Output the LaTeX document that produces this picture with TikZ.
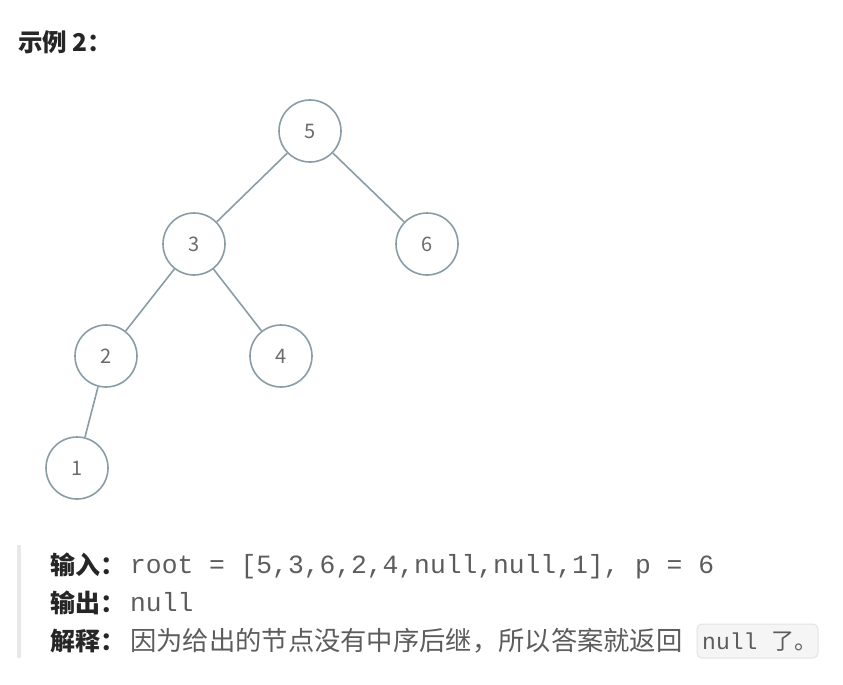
\documentclass[tikz,border=0pt]{standalone}
\usepackage{fontspec}
\newfontfamily\cjk{Noto Sans CJK SC}
\setmonofont{Liberation Mono}
\definecolor{treeline}{HTML}{8A9CA6}
\definecolor{numgray}{HTML}{6B6B6B}
\definecolor{textgray}{HTML}{5C5C5C}
\definecolor{labeldark}{HTML}{262626}
\definecolor{codebg}{HTML}{F5F5F5}
\definecolor{codeframe}{HTML}{E3E3E3}
\definecolor{quotebar}{HTML}{E8E8E8}

\begin{document}
\begin{tikzpicture}[x=1pt,y=-1pt,
	treenode/.style={circle, draw=treeline, line width=1.6pt, minimum size=62pt, inner sep=0pt,
		text=numgray, font=\cjk\fontsize{20}{24}\selectfont},
	treeedge/.style={draw=treeline, line width=1.6pt},
	label/.style={anchor=base west, inner sep=0pt, text=labeldark, font=\cjk\bfseries\fontsize{25}{30}\selectfont},
	plain/.style={anchor=base west, inner sep=0pt, text=textgray}]
	\useasboundingbox (0,0) rectangle (843,685);
	\node [anchor=base west, inner sep=0pt, text=labeldark, font=\cjk\bfseries\fontsize{24.5}{28}\selectfont] (title) at (18,52) {示例 2：};
	\node [treenode] (n5) at (310,131) {5};
	\node [treenode] (n3) at (194,244) {3};
	\node [treenode] (n6) at (427,244) {6};
	\node [treenode] (n2) at (106,356) {2};
	\node [treenode] (n4) at (281,356) {4};
	\node [treenode] (n1) at (77,468) {1};
	\draw [treeedge] (n5) -- (n3) (n5) -- (n6) (n3) -- (n2) (n3) -- (n4) (n2) -- (n1);
	\fill [quotebar] (17,545) rectangle (21,658);
	\node [label] (inlab) at (50,574) {输入：};
	\node [plain, font=\ttfamily\fontsize{26.3}{30}\selectfont] (intext) at (130,573) {root = [5,3,6,2,4,null,null,1], p = 6};
	\node [label] (outlab) at (50,612) {输出：};
	\node [plain, font=\ttfamily\fontsize{26.3}{30}\selectfont] (outtext) at (130,611) {null};
	\node [label] (exlab) at (50,650) {解释：};
	\node [plain, font=\cjk\fontsize{26.3}{30}\selectfont] (extext) at (130,650) {因为给出的节点没有中序后继，所以答案就返回};
	\draw [fill=codebg, draw=codeframe, line width=1pt, rounded corners=5pt] (697,624) rectangle (818,658);
	\node [plain, font=\ttfamily\fontsize{23}{26}\selectfont] (code) at (702,649) {null \cjk 了。};
\end{tikzpicture}
\end{document}
